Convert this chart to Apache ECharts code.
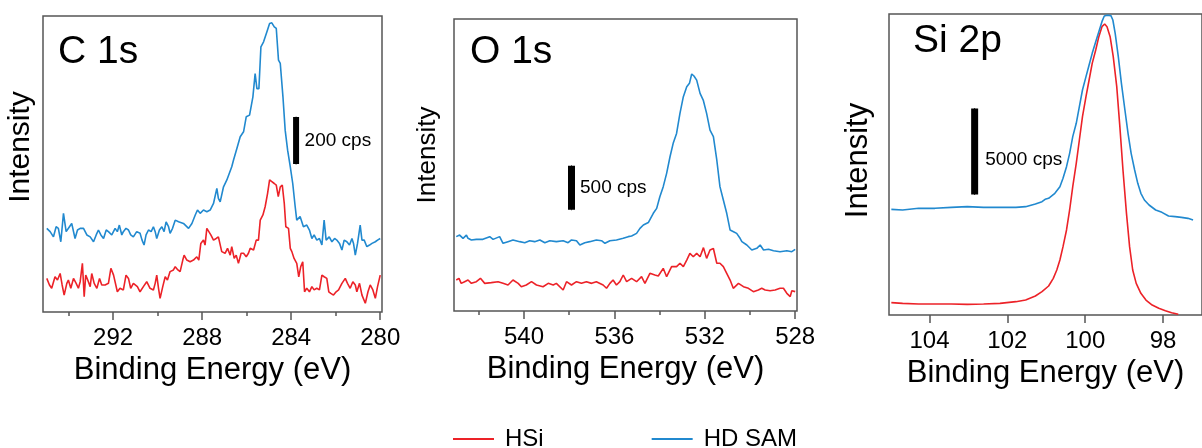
<!DOCTYPE html>
<html>
<head>
<meta charset="utf-8">
<script src="https://cdn.jsdelivr.net/npm/echarts@6/dist/echarts.min.js"></script>
<style>
  html, body { margin: 0; padding: 0; background: #fff; overflow: hidden; }
  #main { width: 1202px; height: 448px; }
</style>
</head>
<body>
<div id="main"></div>
<script>
// [binding energy (eV), counts (cps)]
var c1sHSi = [[294.98,143],[294.86,115],[294.76,101],[294.61,150],[294.50,136],[294.38,164],[294.29,115],[294.20,72],[294.08,122],[294.01,136],[293.90,101],[293.78,143],[293.66,122],[293.56,101],[293.48,129],[293.38,207],[293.30,65],[293.23,157],[293.14,136],[293.03,108],[292.96,164],[292.85,122],[292.73,101],[292.61,143],[292.51,115],[292.36,115],[292.21,122],[292.10,186],[291.98,157],[291.81,86],[291.69,101],[291.54,94],[291.42,157],[291.31,143],[291.21,101],[291.09,122],[291.01,129],[290.91,108],[290.79,86],[290.64,108],[290.49,129],[290.34,101],[290.19,94],[290.11,122],[290.04,157],[289.96,101],[289.89,58],[289.77,108],[289.66,150],[289.56,136],[289.44,172],[289.29,179],[289.21,193],[289.09,179],[288.99,172],[288.87,221],[288.81,242],[288.69,221],[288.54,214],[288.39,221],[288.24,235],[288.15,221],[288.06,292],[287.94,306],[287.87,285],[287.79,356],[287.72,349],[287.61,328],[287.49,306],[287.37,313],[287.27,320],[287.12,257],[286.97,250],[286.86,271],[286.74,242],[286.67,278],[286.56,228],[286.47,242],[286.37,207],[286.25,250],[286.14,250],[286.02,235],[285.92,250],[285.84,271],[285.69,264],[285.57,306],[285.47,306],[285.39,391],[285.27,413],[285.17,448],[285.06,505],[284.97,562],[284.87,555],[284.76,547],[284.67,540],[284.58,491],[284.49,533],[284.40,540],[284.31,462],[284.24,363],[284.12,356],[284.04,271],[283.97,257],[283.87,228],[283.75,207],[283.66,150],[283.57,193],[283.48,214],[283.40,86],[283.30,101],[283.18,86],[283.07,108],[282.97,94],[282.85,101],[282.73,94],[282.62,157],[282.52,150],[282.40,143],[282.31,86],[282.22,79],[282.10,72],[281.98,86],[281.87,94],[281.72,122],[281.57,143],[281.47,122],[281.35,101],[281.23,129],[281.12,115],[281.05,86],[280.93,122],[280.82,72],[280.67,37],[280.55,86],[280.45,115],[280.33,94],[280.22,58],[280.12,108],[280.00,157]];
var c1sSAM = [[294.98,356],[294.83,342],[294.68,320],[294.56,363],[294.46,356],[294.35,299],[294.23,420],[294.11,342],[293.96,363],[293.86,377],[293.71,313],[293.60,349],[293.48,356],[293.33,356],[293.18,328],[293.03,320],[292.88,299],[292.76,328],[292.66,349],[292.55,328],[292.43,313],[292.31,349],[292.21,342],[292.06,328],[291.91,356],[291.81,342],[291.72,370],[291.61,328],[291.54,342],[291.42,356],[291.31,349],[291.21,328],[291.09,320],[290.94,342],[290.79,335],[290.70,306],[290.61,285],[290.52,328],[290.41,349],[290.29,342],[290.19,363],[290.11,342],[290.04,313],[289.92,349],[289.81,363],[289.71,342],[289.62,384],[289.51,363],[289.44,335],[289.33,356],[289.21,391],[289.06,384],[288.84,377],[288.61,356],[288.46,377],[288.31,413],[288.21,434],[288.09,420],[287.94,434],[287.79,427],[287.64,434],[287.49,462],[287.34,526],[287.27,484],[287.19,469],[287.04,533],[286.89,562],[286.67,618],[286.59,647],[286.44,696],[286.29,746],[286.14,767],[286.02,831],[285.87,838],[285.72,916],[285.62,1015],[285.54,951],[285.45,951],[285.36,1129],[285.24,1150],[285.09,1193],[284.97,1228],[284.87,1231],[284.76,1214],[284.67,1207],[284.57,1072],[284.49,1058],[284.37,916],[284.27,774],[284.16,689],[284.04,618],[283.93,547],[283.82,448],[283.75,391],[283.60,406],[283.45,363],[283.30,370],[283.18,349],[283.07,313],[282.97,328],[282.85,306],[282.73,313],[282.62,285],[282.52,391],[282.43,306],[282.29,320],[282.17,299],[282.05,313],[281.95,306],[281.83,292],[281.72,264],[281.62,306],[281.50,299],[281.38,285],[281.27,313],[281.20,292],[281.12,242],[281.02,292],[280.90,370],[280.82,306],[280.72,306],[280.60,278],[280.48,285],[280.37,292],[280.22,299],[280.12,306],[280.00,313]];

var o1sHSi = [[543.00,352],[542.88,371],[542.78,314],[542.63,333],[542.48,352],[542.33,314],[542.11,333],[541.93,371],[541.74,314],[541.45,322],[541.15,333],[540.93,314],[540.71,295],[540.49,352],[540.26,314],[540.12,276],[539.90,295],[539.67,333],[539.45,295],[539.16,276],[538.93,314],[538.71,295],[538.57,314],[538.27,239],[538.12,333],[537.90,295],[537.68,333],[537.46,314],[537.24,333],[537.01,314],[536.80,333],[536.50,295],[536.35,258],[536.20,314],[536.06,352],[535.91,295],[535.76,333],[535.61,409],[535.46,333],[535.24,371],[535.02,333],[534.80,390],[534.65,314],[534.43,428],[534.21,409],[534.06,398],[533.84,485],[533.69,390],[533.47,504],[533.25,504],[533.10,542],[532.95,504],[532.80,579],[532.66,655],[532.51,617],[532.36,655],[532.21,617],[532.06,720],[531.92,598],[531.77,693],[531.62,710],[531.47,542],[531.33,542],[531.18,504],[531.03,428],[530.88,352],[530.74,258],[530.51,314],[530.29,276],[530.07,258],[529.85,220],[529.63,239],[529.48,258],[529.33,239],[529.11,231],[528.89,239],[528.67,258],[528.52,258],[528.37,201],[528.22,163],[528.15,231],[528.00,220]];
var o1sSAM = [[543.00,845],[542.85,863],[542.70,826],[542.55,863],[542.48,826],[542.33,807],[542.11,814],[541.82,814],[541.52,845],[541.37,814],[541.08,845],[541.00,826],[540.93,769],[540.71,788],[540.49,807],[540.19,788],[539.97,776],[539.75,799],[539.53,788],[539.30,807],[539.08,776],[538.86,799],[538.57,788],[538.27,799],[538.05,776],[537.90,807],[537.68,799],[537.53,750],[537.31,776],[537.09,788],[536.80,807],[536.57,799],[536.42,769],[536.20,799],[535.91,807],[535.61,826],[535.39,845],[535.24,852],[535.02,882],[534.87,939],[534.72,977],[534.50,1005],[534.28,1110],[534.13,1166],[533.99,1299],[533.84,1413],[533.69,1564],[533.54,1753],[533.40,1905],[533.25,2018],[533.10,2246],[532.95,2435],[532.80,2549],[532.68,2587],[532.58,2693],[532.48,2670],[532.36,2624],[532.21,2473],[532.07,2397],[531.92,2246],[531.77,2056],[531.62,1981],[531.47,1716],[531.33,1413],[531.18,1261],[531.03,1110],[530.88,920],[530.73,901],[530.59,882],[530.44,826],[530.36,788],[530.14,750],[529.92,693],[529.70,712],[529.55,750],[529.40,693],[529.18,701],[528.96,685],[528.67,674],[528.37,685],[528.15,674],[528.00,701]];

var si2pHSi = [[104.98,717],[104.69,678],[104.28,640],[103.86,640],[103.44,640],[103.03,620],[102.61,640],[102.19,678],[101.78,775],[101.53,872],[101.28,1105],[101.11,1357],[100.94,1686],[100.82,2132],[100.73,2616],[100.65,3198],[100.57,3973],[100.48,4942],[100.40,6105],[100.32,7461],[100.23,8818],[100.15,10175],[100.07,11531],[99.98,12694],[99.90,13663],[99.82,14632],[99.73,15407],[99.65,16182],[99.57,16764],[99.50,16919],[99.44,16764],[99.36,16182],[99.28,15020],[99.19,13275],[99.11,10950],[99.03,8430],[98.94,5911],[98.86,3973],[98.78,2616],[98.69,1841],[98.57,1260],[98.44,872],[98.28,581],[98.11,388],[97.94,252],[97.78,136],[97.61,39]];
var si2pSAM = [[104.98,6143],[104.69,6105],[104.28,6202],[103.86,6202],[103.44,6260],[103.03,6299],[102.61,6260],[102.19,6260],[101.78,6260],[101.53,6299],[101.28,6454],[101.11,6589],[101.03,6725],[100.94,6783],[100.78,7074],[100.65,7461],[100.57,7946],[100.48,8624],[100.40,9399],[100.32,10368],[100.23,11144],[100.15,12113],[100.07,13082],[99.98,13857],[99.90,14535],[99.82,15213],[99.73,15892],[99.65,16473],[99.57,17054],[99.51,17384],[99.44,17423],[99.34,17403],[99.29,17151],[99.23,16376],[99.15,15020],[99.07,13469],[98.98,11919],[98.90,10562],[98.82,9399],[98.73,8430],[98.65,7655],[98.57,7074],[98.48,6686],[98.36,6395],[98.19,6105],[98.03,5969],[97.86,5756],[97.69,5717],[97.53,5678],[97.36,5620],[97.23,5523]];

// tick labels
var c1sTicks = [292, 288, 284, 280];
var c1sMinor = [294, 290, 286, 282];
var o1sTicks = [540, 536, 532, 528];
var o1sMinor = [542, 538, 534, 530];
var si2pTicks = [104, 102, 100, 98];

// scale bars: [energy, cps] bottom / label / top
var c1sBar = [[283.78, 630], [283.78, 730], [283.78, 830]];
var o1sBar = [[537.9, 1150], [537.9, 1400], [537.9, 1650]];
var si2pBar = [[102.84, 7000], [102.84, 9000], [102.84, 12000]];

var panelTitles = ['C 1s', 'O 1s', 'Si 2p'];
var barLabels = ['200 cps', '500 cps', '5000 cps'];
var seriesNames = ['HSi', 'HD SAM'];

var FONT = 'Liberation Sans, Arial, Helvetica, sans-serif';
var RED = '#ec2228';
var BLUE = '#2189cf';
var AXIS = '#555';

var chart = echarts.init(document.getElementById('main'));

function mainX(idx, min, max, ticks) {
	return {
		type: 'value', gridIndex: idx, position: 'bottom', inverse: true, min: min, max: max,
		axisLine: { show: false },
		splitLine: { show: false },
		axisTick: { show: true, length: 8, customValues: ticks, lineStyle: { color: AXIS, width: 1.5 } },
		axisLabel: { customValues: ticks, color: '#000', fontSize: 24, fontFamily: FONT, margin: 14 },
		name: 'Binding Energy (eV)', nameLocation: 'middle', nameGap: 38,
		nameTextStyle: { color: '#000', fontSize: 31, fontFamily: FONT }
	};
}

// second axis on the same grid, only for the short minor ticks
function minorX(idx, min, max, ticks) {
	return {
		type: 'value', gridIndex: idx, position: 'bottom', inverse: true, min: min, max: max,
		axisLine: { show: false }, splitLine: { show: false },
		axisTick: { show: true, length: 4, customValues: ticks, lineStyle: { color: AXIS, width: 1.5 } },
		axisLabel: { show: false }
	};
}

function yAx(idx, max, fs, gap, shift) {
	return {
		type: 'value', gridIndex: idx, min: 0, max: max,
		axisLine: { show: false }, axisTick: { show: false },
		axisLabel: { show: false }, splitLine: { show: false },
		name: 'Intensity', nameLocation: 'middle', nameRotate: 90, nameGap: gap,
		nameTextStyle: { color: '#000', fontSize: fs, fontFamily: FONT, padding: [0, 0, 0, shift] }
	};
}

function curve(name, color, xi, yi, data) {
	return {
		name: name, type: 'line', xAxisIndex: xi, yAxisIndex: yi,
		data: data, symbol: 'none', silent: true,
		lineStyle: { color: color, width: 1.6 },
		itemStyle: { color: color }
	};
}

function scaleBar(xi, yi, pts, text, w, dist) {
	return {
		type: 'line', xAxisIndex: xi, yAxisIndex: yi, silent: true,
		symbol: 'circle', symbolSize: 1, showSymbol: true,
		lineStyle: { color: '#000', width: w, cap: 'butt' },
		itemStyle: { color: '#000' },
		label: { show: false },
		data: [
			pts[0],
			{ value: pts[1], label: { show: true, position: 'right', distance: dist, formatter: text,
				color: '#000', fontSize: 19, fontFamily: FONT } },
			pts[2]
		]
	};
}

var gridStyle = { show: true, borderColor: AXIS, borderWidth: 1.5, backgroundColor: 'transparent' };
var titleStyle = { fontSize: 39, fontWeight: 'normal', color: '#000', fontFamily: FONT };

var option = {
	animation: false,
	textStyle: { fontFamily: FONT },
	title: [
		{ text: panelTitles[0], left: 58, top: 33, padding: 0, textStyle: titleStyle },
		{ text: panelTitles[1], left: 470, top: 33, padding: 0, textStyle: titleStyle },
		{ text: panelTitles[2], left: 913, top: 22, padding: 0, textStyle: titleStyle }
	],
	legend: {
		data: seriesNames, left: 448, top: 422, itemWidth: 41, itemHeight: 14, itemGap: 108,
		icon: 'path://M0,6 L41,6 L41,8 L0,8 Z',
		textStyle: { fontSize: 24, color: '#000', fontFamily: FONT, padding: [0, 0, 0, 6] }
	},
	grid: [
		Object.assign({ left: 43, top: 16, width: 339, height: 296 }, gridStyle),
		Object.assign({ left: 454, top: 19, width: 343, height: 292 }, gridStyle),
		Object.assign({ left: 889, top: 14, width: 322, height: 301 }, gridStyle)
	],
	xAxis: [
		mainX(0, 279.92, 295.15, c1sTicks),
		mainX(1, 527.92, 543.1, o1sTicks),
		mainX(2, 97, 105.04, si2pTicks),
		minorX(0, 279.92, 295.15, c1sMinor),
		minorX(1, 527.92, 543.1, o1sMinor)
	],
	yAxis: [
		yAx(0, 1260, 30, 7, 34),
		yAx(1, 3318, 26, 13, 20),
		yAx(2, 17500, 31, 15, 8)
	],
	series: [
		curve(seriesNames[0], RED, 0, 0, c1sHSi),
		curve(seriesNames[1], BLUE, 0, 0, c1sSAM),
		curve(seriesNames[0], RED, 1, 1, o1sHSi),
		curve(seriesNames[1], BLUE, 1, 1, o1sSAM),
		curve(seriesNames[0], RED, 2, 2, si2pHSi),
		curve(seriesNames[1], BLUE, 2, 2, si2pSAM),
		scaleBar(0, 0, c1sBar, barLabels[0], 6, 8),
		scaleBar(1, 1, o1sBar, barLabels[1], 7, 8),
		scaleBar(2, 2, si2pBar, barLabels[2], 7, 10)
	]
};

chart.setOption(option);
</script>
</body>
</html>
